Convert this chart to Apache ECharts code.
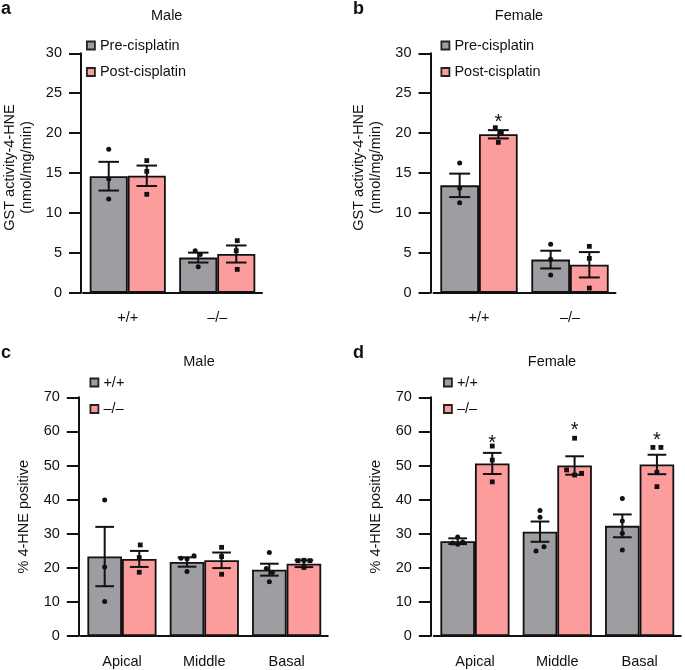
<!DOCTYPE html>
<html>
<head>
<meta charset="utf-8">
<script src="https://cdn.jsdelivr.net/npm/echarts@6/dist/echarts.min.js"></script>
<style>
html,body{margin:0;padding:0;background:#fff;}
#c{width:685px;height:670px;}
</style>
</head>
<body>
<div id="c"></div>
<script>
// ---------- data ----------
const catsTop = ['+/+', '–/–'];
const catsBottom = ['Apical', 'Middle', 'Basal'];
const seriesTop = ['Pre-cisplatin', 'Post-cisplatin'];
const seriesBottom = ['+/+', '–/–'];
const ticksTop = [0, 5, 10, 15, 20, 25, 30];
const ticksBottom = [0, 10, 20, 30, 40, 50, 60, 70];

// a: Male GST activity
const aPreMean = [14.6, 4.4];
const aPreSem = [1.8, 0.62];
const aPostMean = [14.65, 4.85];
const aPostSem = [1.28, 1.07];
const aPrePts = [[17.97, 14.25, 11.74], [5.26, 4.8, 3.26]];
const aPostPts = [[16.55, 15.2, 12.33], [6.52, 5.26, 2.92]];
const aPreJit = [[0, 0, 0], [-3, 2, 0]];
const aPostJit = [[0, 0, 0], [1, 0, 1]];

// b: Female GST activity
const bPreMean = [13.45, 4.15];
const bPreSem = [1.47, 1.11];
const bPostMean = [19.85, 3.5];
const bPostSem = [0.52, 1.59];
const bPrePts = [[16.25, 13.08, 11.28], [6.06, 4.18, 2.21]];
const bPostPts = [[20.68, 20.06, 18.84], [5.81, 4.30, 0.58]];
const bPreJit = [[0, 0, 0], [0, 0, 0]];
const bPostJit = [[-3, 3, 0], [0, 0, 0]];
const bStar = [21.95, null];

// c: Male % 4-HNE positive
const cWtMean = [23.3, 21.7, 19.45];
const cWtSem = [8.7, 1.37, 1.75];
const cKoMean = [22.6, 22.2, 21.2];
const cKoSem = [2.35, 2.28, 1.0];
const cWtPts = [[39.9, 20.2, 10.1], [22.8, 22.6, 23.5, 18.9], [24.5, 19.8, 18.6, 15.9]];
const cKoPts = [[26.7, 23.0, 18.7], [26.0, 23.3, 18.1], [22.1, 22.2, 22.1, 20.1]];
const cWtJit = [[0, 0, 0], [-6, 0, 7, 0], [0, -3, 3, 0]];
const cKoJit = [[1, 0, 0], [0, 0, 0], [-6, 0, 6, 0]];

// d: Female % 4-HNE positive
const dWtMean = [27.8, 30.6, 32.3];
const dWtSem = [0.84, 2.97, 3.35];
const dKoMean = [50.6, 50.0, 50.3];
const dKoSem = [3.1, 2.7, 2.85];
const dWtPts = [[29.0, 27.3, 27.6, 26.9], [36.8, 34.8, 24.9, 26.2], [40.3, 33.7, 30.1, 25.2]];
const dKoPts = [[55.7, 51.6, 45.2], [58.0, 48.7, 47.2, 47.7], [55.3, 55.3, 48.0, 43.8]];
const dWtJit = [[0, -5, 5, 0], [0, 0, -4, 4], [0, 0, 0, 0]];
const dKoJit = [[0, 0, 0], [0, -8, 0, 7], [-4, 4, 0, 0]];
const dStar = [58.0, 61.6, 58.7];

// ---------- styling ----------
const FONT = "'Liberation Sans', Arial, Helvetica, sans-serif";
const GRAY = '#9e9da2';
const PINK = '#fd9c9c';
const INK = '#111111';
const GAP_TOP = 0.15;
const GAP_BOTTOM = 0.16;

const panels = [
  {cats: catsTop, names: seriesTop, ticks: ticksTop, gap: GAP_TOP,
   m1: aPreMean, s1: aPreSem, m2: aPostMean, s2: aPostSem,
   p1: aPrePts, p2: aPostPts, j1: aPreJit, j2: aPostJit, star: null,
   grid: {left: 81, top: 53.3, width: 181, height: 239.4}, yOffset: 2, namePad: [0, 0, 0, 11],
   yName: 'GST activity-4-HNE\n(nmol/mg/min)', legend: {left: 86, top: 38}},
  {cats: catsTop, names: seriesTop, ticks: ticksTop, gap: GAP_TOP,
   m1: bPreMean, s1: bPreSem, m2: bPostMean, s2: bPostSem,
   p1: bPrePts, p2: bPostPts, j1: bPreJit, j2: bPostJit, star: bStar,
   grid: {left: 433.5, top: 53.3, width: 182, height: 239.4}, yOffset: 3, namePad: [0, 0, 0, 11],
   yName: 'GST activity-4-HNE\n(nmol/mg/min)', legend: {left: 440.5, top: 38}},
  {cats: catsBottom, names: seriesBottom, ticks: ticksBottom, gap: GAP_BOTTOM,
   m1: cWtMean, s1: cWtSem, m2: cKoMean, s2: cKoSem,
   p1: cWtPts, p2: cKoPts, j1: cWtJit, j2: cKoJit, star: null,
   grid: {left: 80.8, top: 397.3, width: 247, height: 238.7}, yOffset: 2, namePad: [0, 0, 0, 0],
   yName: '% 4-HNE positive', legend: {left: 89.5, top: 375}},
  {cats: catsBottom, names: seriesBottom, ticks: ticksBottom, gap: GAP_BOTTOM,
   m1: dWtMean, s1: dWtSem, m2: dKoMean, s2: dKoSem,
   p1: dWtPts, p2: dKoPts, j1: dWtJit, j2: dKoJit, star: dStar,
   grid: {left: 433.8, top: 397.3, width: 247, height: 238.7}, yOffset: 3, namePad: [0, 0, 0, 0],
   yName: '% 4-HNE positive', legend: {left: 443, top: 375}}
];

function errSeries(gi, means, sems, side, gap) {
  return {
    type: 'custom', xAxisIndex: gi, yAxisIndex: gi, z: 6, silent: true,
    data: means.map((m, i) => [i, m, sems[i]]),
    encode: {x: 0, y: 1},
    renderItem: function (params, api) {
      const i = api.value(0), m = api.value(1), s = api.value(2);
      const band = api.size([1, 0])[0];
      const bw = band * (1 - gap) / 2;
      const cx = api.coord([i, m])[0] + side * bw / 2;
      const yt = api.coord([i, m + s])[1];
      const yb = api.coord([i, m - s])[1];
      const hw = bw * 0.27;
      const st = {stroke: INK, lineWidth: 2, fill: null};
      return {type: 'group', children: [
        {type: 'line', shape: {x1: cx, y1: yt, x2: cx, y2: yb}, style: st},
        {type: 'line', shape: {x1: cx - hw, y1: yt, x2: cx + hw, y2: yt}, style: st},
        {type: 'line', shape: {x1: cx - hw, y1: yb, x2: cx + hw, y2: yb}, style: st}
      ]};
    }
  };
}

function dotSeries(gi, pts, jit, side, gap, shape) {
  const data = [];
  pts.forEach((arr, i) => arr.forEach((v, k) => data.push([i, v, jit[i][k]])));
  return {
    type: 'custom', xAxisIndex: gi, yAxisIndex: gi, z: 7, silent: true,
    data: data, encode: {x: 0, y: 1},
    renderItem: function (params, api) {
      const i = api.value(0), v = api.value(1), j = api.value(2);
      const band = api.size([1, 0])[0];
      const bw = band * (1 - gap) / 2;
      const p = api.coord([i, v]);
      const cx = p[0] + side * bw / 2 + j;
      if (shape === 'circle') {
        return {type: 'circle', shape: {cx: cx, cy: p[1], r: 2.5}, style: {fill: INK}};
      }
      return {type: 'rect', shape: {x: cx - 2.4, y: p[1] - 2.4, width: 4.8, height: 4.8}, style: {fill: INK}};
    }
  };
}

function starSeries(gi, stars, side, gap) {
  const data = [];
  stars.forEach((v, i) => { if (v != null) data.push([i, v]); });
  return {
    type: 'custom', xAxisIndex: gi, yAxisIndex: gi, z: 7, silent: true,
    data: data, encode: {x: 0, y: 1},
    renderItem: function (params, api) {
      const i = api.value(0), v = api.value(1);
      const band = api.size([1, 0])[0];
      const bw = band * (1 - gap) / 2;
      const p = api.coord([i, v]);
      return {type: 'text', style: {text: '*', x: p[0] + side * bw / 2, y: p[1] + 5,
        align: 'center', verticalAlign: 'middle', fontSize: 20, fontFamily: FONT, fill: INK}};
    }
  };
}

const grids = [], xAxes = [], yAxes = [], legends = [], series = [];
panels.forEach((P, gi) => {
  grids.push(Object.assign({containLabel: false}, P.grid));
  xAxes.push({
    type: 'category', gridIndex: gi, data: P.cats, boundaryGap: true,
    axisLine: {lineStyle: {color: INK, width: 2}},
    axisTick: {alignWithLabel: true, length: 12, lineStyle: {color: INK, width: 2}},
    axisLabel: {color: INK, fontSize: 14.5, fontFamily: FONT, margin: 18},
    splitLine: {show: false}
  });
  const t = P.ticks;
  yAxes.push({
    type: 'value', gridIndex: gi, min: t[0], max: t[t.length - 1], interval: t[1] - t[0],
    offset: P.yOffset,
    name: P.yName, nameLocation: 'middle', nameRotate: 90, nameGap: 46,
    nameTextStyle: {color: INK, fontSize: 14.5, fontFamily: FONT, lineHeight: 17, padding: P.namePad},
    axisLine: {show: true, lineStyle: {color: INK, width: 2}},
    axisTick: {show: true, length: 12, lineStyle: {color: INK, width: 2}},
    axisLabel: {color: INK, fontSize: 14.5, fontFamily: FONT, margin: 19},
    splitLine: {show: false}
  });
  legends.push({
    orient: 'vertical', left: P.legend.left, top: P.legend.top, padding: 0,
    itemGap: 11.5, itemWidth: 8, itemHeight: 8, icon: 'rect', selectedMode: false,
    data: P.names,
    itemStyle: {borderColor: '#222', borderWidth: 1.8},
    textStyle: {color: INK, fontSize: 14.5, fontFamily: FONT, lineHeight: 15, padding: [0, 0, 0, 0]}
  });
  const barBase = {type: 'bar', xAxisIndex: gi, yAxisIndex: gi, barGap: '0%',
    barCategoryGap: (P.gap * 100) + '%', silent: true};
  series.push(Object.assign({}, barBase, {name: P.names[0], data: P.m1,
    itemStyle: {color: GRAY, borderColor: INK, borderWidth: 1.8}}));
  series.push(Object.assign({}, barBase, {name: P.names[1], data: P.m2,
    itemStyle: {color: PINK, borderColor: INK, borderWidth: 1.8}}));
  series.push(errSeries(gi, P.m1, P.s1, -1, P.gap));
  series.push(errSeries(gi, P.m2, P.s2, 1, P.gap));
  series.push(dotSeries(gi, P.p1, P.j1, -1, P.gap, 'circle'));
  series.push(dotSeries(gi, P.p2, P.j2, 1, P.gap, 'rect'));
  if (P.star) series.push(starSeries(gi, P.star, 1, P.gap));
});

const letterStyle = {color: INK, fontSize: 18, fontWeight: 'bold', fontFamily: FONT};
const titleStyle = {color: INK, fontSize: 14.5, fontWeight: 'normal', fontFamily: FONT};
const titles = [
  {text: 'a', left: 1, top: 0, padding: 0, textStyle: letterStyle},
  {text: 'Male', left: 166.7, top: 8, padding: 0, textAlign: 'center', textStyle: titleStyle},
  {text: 'b', left: 353, top: 0, padding: 0, textStyle: letterStyle},
  {text: 'Female', left: 519, top: 8, padding: 0, textAlign: 'center', textStyle: titleStyle},
  {text: 'c', left: 1, top: 344, padding: 0, textStyle: letterStyle},
  {text: 'Male', left: 199, top: 354, padding: 0, textAlign: 'center', textStyle: titleStyle},
  {text: 'd', left: 353, top: 344, padding: 0, textStyle: letterStyle},
  {text: 'Female', left: 552, top: 354, padding: 0, textAlign: 'center', textStyle: titleStyle}
];

const chart = echarts.init(document.getElementById('c'), null, {renderer: 'canvas'});
chart.setOption({
  animation: false,
  backgroundColor: '#ffffff',
  textStyle: {fontFamily: FONT},
  title: titles,
  grid: grids,
  xAxis: xAxes,
  yAxis: yAxes,
  legend: legends,
  series: series
});
</script>
</body>
</html>
